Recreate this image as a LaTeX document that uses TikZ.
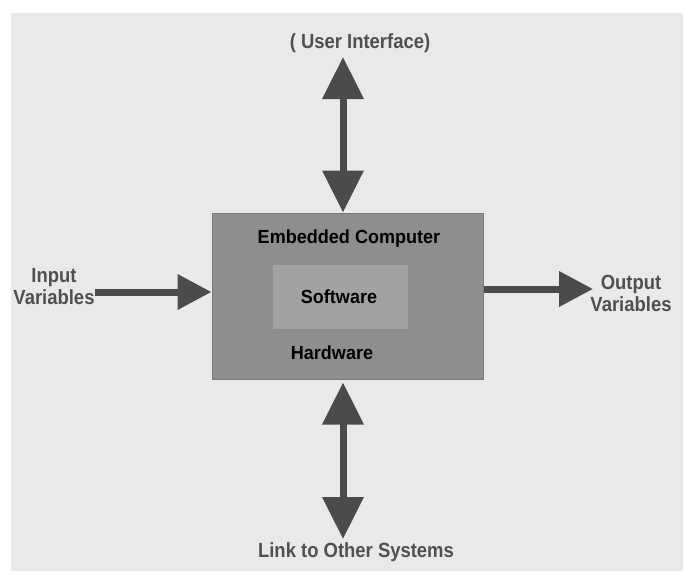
\documentclass[tikz,border=0pt]{standalone}
\usepackage{fontspec}
\setmainfont{Liberation Sans}
\newfontfamily\extfont[FakeStretch=0.9]{Liberation Sans}
\newfontfamily\intfont[FakeStretch=0.95]{Liberation Sans}
\usetikzlibrary{shapes,arrows,arrows.meta,positioning}
\usepackage{xcolor}
\definecolor{panelgray}{HTML}{E9E9E9}
\definecolor{boxgray}{HTML}{8E8E8E}
\definecolor{boxedge}{HTML}{7A7A7A}
\definecolor{softgray}{HTML}{A2A2A2}
\definecolor{arrowgray}{HTML}{4B4B4B}
\definecolor{labelgray}{HTML}{505050}

\begin{document}
\begin{tikzpicture}[x=1pt, y=-1pt]

  % Define styles
  \tikzstyle{hwbox} = [rectangle, draw=boxedge, line width=1pt, fill=boxgray, minimum width=271pt, minimum height=166pt, inner sep=0pt]
  \tikzstyle{swbox} = [rectangle, fill=softgray, minimum width=135pt, minimum height=64pt, inner sep=0pt]
  \tikzstyle{extlabel} = [text=labelgray, align=center, inner sep=0pt, font=\extfont\bfseries\fontsize{20.5}{22}\selectfont]
  \tikzstyle{intlabel} = [text=black, inner sep=0pt, font=\intfont\bfseries\fontsize{19}{21}\selectfont]
  \tikzstyle{linkarrow} = [draw=arrowgray, fill=arrowgray, line width=7pt, {Triangle[length=42pt,width=40pt]}-{Triangle[length=42pt,width=40pt]}]
  \tikzstyle{flowarrow} = [draw=arrowgray, fill=arrowgray, line width=7pt, -{Triangle[length=34pt,width=34pt]}]

  % Background panel
  \useasboundingbox (0,0) rectangle (686,574);
  \fill[panelgray] (11,13) rectangle (683,571);

  % Computer boxes
  \node[hwbox] (computer) at (347.5,296) {};
  \node[swbox] (software) at (340.5,297) {};

  % Inner labels
  \node[intlabel] (embedded) at (349,239) {Embedded Computer};
  \node[intlabel] (swlabel) at (339,297) {Software};
  \node[intlabel] (hwlabel) at (332,353) {Hardware};

  % Outer labels
  \node[extlabel] (ui) at (360,43) {( User Interface)};
  \node[extlabel] (input) at (54,287) {Input\\Variables};
  \node[extlabel] (output) at (631,293) {Output\\Variables};
  \node[extlabel] (link) at (356,552) {Link to Other Systems};

  % Arrow ends
  \coordinate (uitip) at (343,57);
  \coordinate (linktip) at (343,539);
  \coordinate (intail) at (95,292);
  \coordinate (outtip) at (593,289);

  % Arrows
  \draw[linkarrow] (uitip) -- (uitip |- computer.north);
  \draw[linkarrow] (linktip |- computer.south) ++(0,3) -- (linktip);
  \draw[flowarrow] (intail) -- (intail -| computer.west);
  \draw[flowarrow] (outtip -| computer.east) -- (outtip);

\end{tikzpicture}
\end{document}
